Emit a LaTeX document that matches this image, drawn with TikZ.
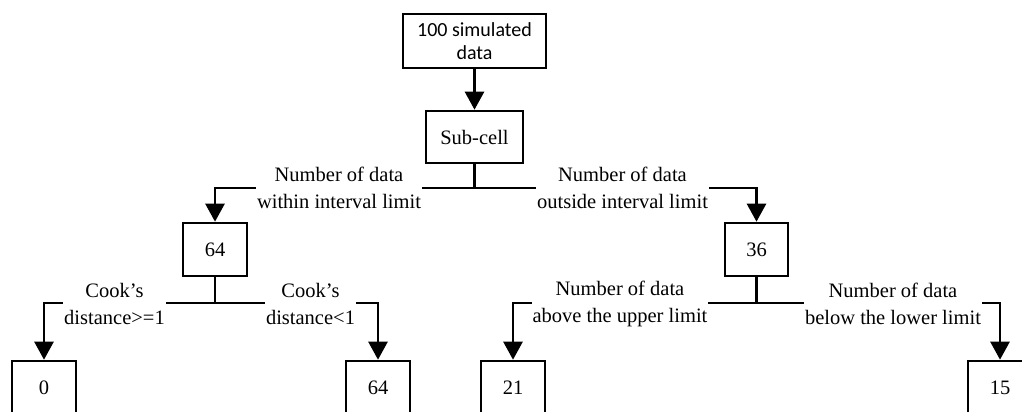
\documentclass[tikz,border=0pt]{standalone}
\usepackage{fontspec}
\setmainfont{Liberation Serif}
\newfontfamily\calfont{Carlito}
\usetikzlibrary{arrows.meta}
\tikzset{
  box/.style={draw, line width=2.6pt, minimum width=64pt, minimum height=53pt, inner sep=0pt, font=\fontsize{20.5}{24}\selectfont},
  lbl/.style={fill=white, inner xsep=1pt, inner ysep=0pt, align=center, font=\fontsize{20.5}{27}\selectfont},
  link/.style={line width=2.6pt},
  arr/.style={line width=2.6pt, -{Triangle[width=19pt,length=18pt]}}
}
\begin{document}
\begin{tikzpicture}[x=1pt,y=-1pt]
\useasboundingbox (0,0) rectangle (1022,412);
\clip (0,0) rectangle (1022,412);
% nodes
\node[box, minimum width=143pt, minimum height=54pt, align=center, font=\calfont\fontsize{20}{23}\selectfont] (top) at (474.5,41) {100 simulated\\data};
\node[box, minimum width=97pt, minimum height=52pt] (sub) at (474.5,137) {Sub-cell};
\node[box] (a) at (215,249.5) {64};
\node[box, minimum width=63pt] (b) at (756.5,249.5) {36};
\node[box] (a1) at (44,387.5) {0};
\node[box] (a2) at (378,387.5) {64};
\node[box] (b1) at (513,387.5) {21};
\node[box] (b2) at (1000,387.5) {15};
% junction coordinates
\coordinate (j0) at (474.5,188);
\coordinate (ja) at (215,303);
\coordinate (jb) at (756.5,303);
% connectors
\draw[arr] (top) -- (sub);
\draw[link] (sub.south) -- (j0);
\draw[link] (a.south) -- (ja);
\draw[link] (b.south) -- (jb);
\draw[arr] (j0) -| (a.north);
\draw[arr] (j0) -| (b.north);
\draw[arr] (ja) -| (a1.north);
\draw[arr] (ja) -| (a2.north);
\draw[arr] (jb) -| (b1.north);
\draw[arr] (jb) -| (b2.north);
% labels
\node[lbl] (l1) at (339,188) {Number of data\\within interval limit};
\node[lbl] (l2) at (622.5,188) {Number of data\\outside interval limit};
\node[lbl] (l3) at (114.5,303.5) {Cook’s\\distance>=1};
\node[lbl] (l4) at (310.5,303.5) {Cook’s\\distance<1};
\node[lbl] (l5) at (620,303.5) {Number of data\\above the upper limit};
\node[lbl] (l6) at (893,303.5) {Number of data\\below the lower limit};
\end{tikzpicture}
\end{document}
